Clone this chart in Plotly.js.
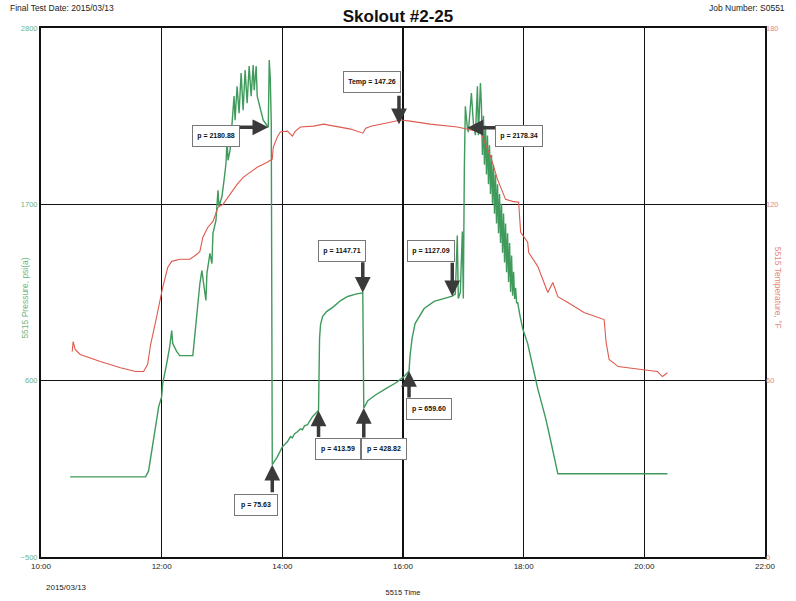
<!DOCTYPE html>
<html>
<head>
<meta charset="utf-8">
<script src="https://cdn.plot.ly/plotly-3.0.1.min.js"></script>
<style>html,body{margin:0;padding:0;background:#fff;}#chart{width:796px;height:601px;}</style>
</head>
<body>
<div id="chart"></div>
<script>
const testDay = '2015-03-13';
const xTickTimes = ['10:00','12:00','14:00','16:00','18:00','20:00','22:00'];
const xTickLabels = ['10:00','12:00','14:00','16:00','18:00','20:00','22:00'];
const pressureTicks = [-500, 600, 1700, 2800];
const temperatureTicks = [0, 60, 120, 180];

const pressureTimes = ['10:29','11:44','11:47','11:51','11:54','11:57','12:00','12:01','12:05','12:08','12:10','12:11','12:15','12:18','12:31','12:33','12:35','12:36','12:38','12:40','12:42','12:44','12:45','12:48','12:50','12:51','12:54','12:56','12:57','13:00','13:02','13:04','13:05','13:06','13:08','13:10','13:12','13:13','13:15','13:17','13:19','13:21','13:23','13:25','13:27','13:29','13:31','13:32','13:34','13:35','13:41','13:46','13:47','13:48','13:49','13:50','13:55','14:00','14:05','14:08','14:10','14:12','14:15','14:18','14:20','14:22','14:25','14:28','14:30','14:33','14:36','14:37','14:38','14:40','14:44','14:51','14:58','15:05','15:13','15:20','15:21','15:25','15:33','15:43','15:53','16:01','16:06','16:07','16:09','16:12','16:16','16:21','16:31','16:41','16:49','16:52','16:54','16:55','16:57','16:59','17:00','17:01','17:02','17:04','17:05','17:08','17:10','17:12','17:14','17:15','17:17','17:18','17:19','17:20','17:21','17:22','17:23','17:24','17:25','17:26','17:27','17:28','17:29','17:30','17:31','17:32','17:33','17:34','17:35','17:36','17:37','17:38','17:39','17:40','17:41','17:42','17:43','17:44','17:45','17:46','17:47','17:48','17:49','17:50','17:51','17:52','17:53','17:54','17:55','17:56','17:57','17:59','18:04','18:07','18:10','18:14','18:18','18:22','18:26','18:30','18:34','20:23'];
const pressureValues = [0,0,37,187,312,437,500,581,706,812,912,831,781,756,756,894,1019,1062,1206,1287,1187,1100,1269,1394,1331,1519,1600,1787,1687,1750,1850,1956,2100,1975,2037,2187,2375,2225,2437,2269,2519,2287,2537,2331,2562,2375,2569,2412,2562,2375,2225,2181,2600,2487,2206,76,125,187,219,250,244,268,281,300,294,318,325,356,375,395,414,862,950,1000,1031,1062,1100,1125,1140,1148,429,475,512,550,587,625,660,756,862,956,1000,1050,1095,1115,1127,1140,1506,1112,1150,1531,1112,1925,2312,2178,2150,2394,2206,2131,2437,2131,2456,2313,2008,2252,1947,2191,1886,2130,1825,2069,1764,2008,1703,1947,1642,1886,1581,1825,1520,1764,1459,1703,1398,1642,1337,1581,1276,1520,1215,1459,1154,1380,1130,1280,1109,1180,1083,1090,1040,1017,986,925,831,737,662,550,456,362,250,144,19,19];

const temperatureTimes = ['10:31','10:32','10:34','10:39','10:59','11:19','11:34','11:42','11:46','11:49','11:54','11:59','12:01','12:06','12:10','12:18','12:28','12:35','12:38','12:41','12:46','12:51','12:56','13:01','13:08','13:15','13:21','13:28','13:35','13:45','13:50','13:51','13:55','13:58','14:05','14:10','14:13','14:18','14:31','14:41','14:55','15:08','15:20','15:23','15:28','15:38','15:55','15:58','16:07','16:27','16:54','17:04','17:17','17:27','17:34','17:42','17:49','17:55','17:57','18:04','18:05','18:14','18:24','18:29','18:32','18:34','18:44','19:00','19:20','19:22','19:25','19:34','19:57','20:13','20:18','20:23'];
const temperatureValues = [69.9,73.3,70.6,68.9,66.5,64.4,63.1,63.1,65.5,72.3,80.1,88.3,91.7,98.5,100.6,101.3,101.3,103,104,108.8,112.2,114.2,119,120,123.4,126.8,129.2,130.9,132.6,134.3,135.4,139.5,142.9,144.6,144.9,143.2,144.9,146.3,146.6,147.3,146.3,145.6,144.2,145.9,146.6,147.3,148.3,148.7,148.3,147.3,146.3,145.6,144.6,136.4,128.5,121.7,121,120.7,110.5,107.1,103.6,98.9,90,93.4,90,88.6,86.6,83.2,80.8,73,67.2,64.8,63.8,63.1,61.4,62.7];

const calloutTimes = ['13:46','15:56','17:04','15:20','16:49','13:50','14:36','15:21','16:06'];
const calloutValues = [2180.88,147.26,2178.34,1147.71,1127.09,75.63,413.59,428.82,659.60];
const calloutLabels = ['p = 2180.88','Temp = 147.26','p = 2178.34','p = 1147.71','p = 1127.09','p = 75.63','p = 413.59','p = 428.82','p = 659.60'];
const calloutSeries = ['p','t','p','p','p','p','p','p','p'];

// layout-only geometry for the callouts (pixels): arrow tail offset and box offset
const calloutGeom = [
  {ax:-30, ay:0, bx:-52, by:-9, w:44},
  {ax:0, ay:-30, bx:-27, by:42, w:54},
  {ax:30, ay:0, bx:52, by:-8, w:44},
  {ax:0, ay:-32, bx:-21, by:42, w:44},
  {ax:0, ay:-35, bx:-21, by:45, w:44},
  {ax:0, ay:29, bx:-16, by:-40, w:40},
  {ax:0, ay:28, bx:19, by:-38, w:42},
  {ax:0, ay:31, bx:20, by:-41, w:42},
  {ax:0, ay:28, bx:20, by:-38, w:42}
];

const ts = t => testDay + ' ' + t;
const font = 'Liberation Sans, Arial, sans-serif';
const green = '#3f9a5c';
const red = '#de5a4e';

const traces = [
  {x: pressureTimes.map(ts), y: pressureValues, type:'scatter', mode:'lines',
   line:{color:green, width:1.4}, yaxis:'y', hoverinfo:'skip'},
  {x: temperatureTimes.map(ts), y: temperatureValues, type:'scatter', mode:'lines',
   line:{color:red, width:1.1}, yaxis:'y2', hoverinfo:'skip'}
];

const annotations = [];
calloutTimes.forEach((t, i) => {
  const g = calloutGeom[i];
  const yref = calloutSeries[i] === 'p' ? 'y' : 'y2';
  annotations.push({x: ts(t), y: calloutValues[i], xref:'x', yref: yref, text:'', showarrow:true,
    ax:g.ax, ay:g.ay, arrowhead:2, arrowsize:0.9, arrowwidth:3.5, arrowcolor:'#3a3a3a', standoff:0});
  annotations.push({x: ts(t), y: calloutValues[i], xref:'x', yref: yref, text:'<b>' + calloutLabels[i] + '</b>',
    showarrow:false, xshift:g.bx, yshift:g.by, width:g.w, height:18, bgcolor:'#ffffff',
    bordercolor:'#777', borderwidth:1, font:{family:font, size:7, color:'#111'}});
});
annotations.push({xref:'paper', yref:'paper', x:0.004, y:-0.045, xanchor:'left', yanchor:'top', showarrow:false,
  text: testDay.replace(/-/g,'/'), font:{family:font, size:8, color:'#222'}});
annotations.push({xref:'paper', yref:'paper', x:-0.032, y:0.49, showarrow:false, textangle:-90,
  text:'5515 Pressure, psi(a)', font:{family:font, size:8.5, color:'#6db583'}});
annotations.push({xref:'paper', yref:'paper', x:1.027, y:0.51, showarrow:false, textangle:90,
  text:'5515 Temperature, °F', font:{family:font, size:8.5, color:'#e58880'}});
annotations.push({xref:'paper', yref:'paper', x:-0.046, y:1.038, xanchor:'left', yanchor:'middle', showarrow:false,
  text:'Final Test Date: 2015/03/13', font:{family:font, size:8.5, color:'#222'}});
annotations.push({xref:'paper', yref:'paper', x:1.03, y:1.038, xanchor:'right', yanchor:'middle', showarrow:false,
  text:'Job Number: S0551', font:{family:font, size:8.5, color:'#222'}});

const layout = {
  width:796, height:601,
  margin:{l:41, r:31, t:28, b:44},
  paper_bgcolor:'#fff', plot_bgcolor:'#fff',
  showlegend:false,
  title:{text:'<b>Skolout #2-25</b>', x:0.5, xref:'container', y:0.973, yanchor:'middle',
    font:{family:font, size:17, color:'#111'}},
  xaxis:{type:'date', range:[ts('10:00'), ts('22:00')], tickmode:'array',
    tickvals:xTickTimes.map(ts), ticktext:xTickLabels, showgrid:true, gridcolor:'#111', gridwidth:1.5,
    showline:true, linecolor:'#111', linewidth:2, mirror:true, zeroline:false, ticks:'',
    tickfont:{family:font, size:8, color:'#222'},
    title:{text:'5515 Time', font:{family:font, size:7.5, color:'#222'}, standoff:20}},
  yaxis:{range:[-500, 2800], tickmode:'array', tickvals:pressureTicks, showgrid:true, gridcolor:'#111', gridwidth:1.5,
    showline:true, linecolor:'#111', linewidth:2, mirror:true, zeroline:false, ticks:'',
    tickfont:{family:font, size:7.5, color:'#6db583'}},
  yaxis2:{range:[0, 180], tickmode:'array', tickvals:temperatureTicks, overlaying:'y', side:'right',
    showgrid:false, zeroline:false, showline:false, ticks:'',
    tickfont:{family:font, size:7.5, color:'#e58880'}},
  annotations: annotations
};

Plotly.newPlot('chart', traces, layout, {staticPlot:true});
</script>
</body>
</html>
